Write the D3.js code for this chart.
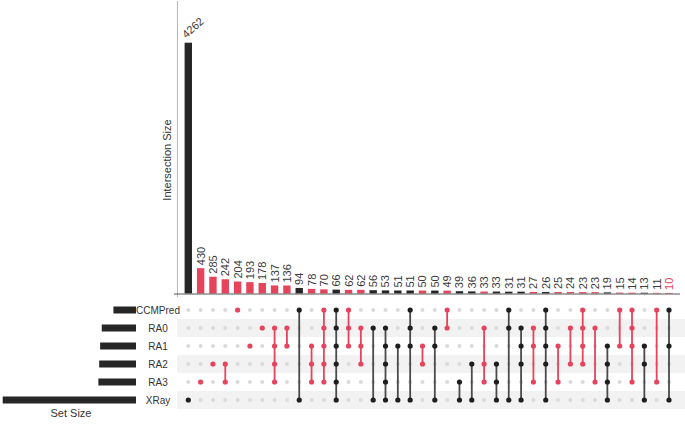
<!DOCTYPE html>
<html><head><meta charset="utf-8">
<script src="https://cdn.jsdelivr.net/npm/d3@7"></script>
<style>body{margin:0;background:#fff;} svg{display:block;font-family:"Liberation Sans",Arial,sans-serif;}</style>
</head><body>
<svg id="c" width="685" height="431"></svg>
<script>
const sets = ["CCMPred","RA0","RA1","RA2","RA3","XRay"];
const setSizes = [840,1275,1335,1370,1400,4960];
const intersectionSizes = [4262,430,285,242,204,193,178,137,136,94,78,70,66,62,62,56,53,51,51,50,50,49,39,36,33,33,31,31,27,26,25,24,23,23,19,15,14,13,11,10];
const intersectionSets = [
 ["XRay"],["RA3"],["RA2"],["RA2","RA3"],["CCMPred"],["RA1"],["RA0"],
 ["RA0","RA1","RA2","RA3"],["RA0","RA1"],["CCMPred","XRay"],["RA1","RA2","RA3"],
 ["CCMPred","RA0","RA1","RA2","RA3"],["CCMPred","RA0","RA1","RA2","RA3","XRay"],
 ["CCMPred","RA0","RA1"],["RA0","RA1","RA2"],["RA0","XRay"],["RA0","RA1","RA2","RA3","XRay"],
 ["RA1","XRay"],["CCMPred","RA0","RA1","XRay"],["RA1","RA2"],["RA0","RA1","XRay"],
 ["CCMPred","RA0"],["RA3","XRay"],["RA2","XRay"],["RA0","RA2","RA3"],["RA2","RA3","XRay"],
 ["CCMPred","RA0","XRay"],["RA0","RA1","RA2","XRay"],["RA0","RA1","RA3"],
 ["CCMPred","RA0","RA1","RA2","XRay"],["RA1","RA3"],["RA0","RA2"],["CCMPred","RA0","RA1","RA2"],
 ["RA0","RA3"],["RA1","RA2","RA3","XRay"],["CCMPred","RA1"],["CCMPred","RA0","RA1","RA3"],
 ["RA1","RA2","XRay"],["CCMPred","RA3"],["CCMPred","RA1","XRay"]
];
const highlightedLabel = 39;

const RED = "#e5445c", BLACK = "#262626", LINE_BLACK = "#4a4a4a";
const svg = d3.select("#c");
const idx = d3.range(intersectionSizes.length);
const x = d3.scalePoint().domain(idx).range([188.3, 669]);
const bw = x.step() * 0.6;
const y = d3.scaleLinear().domain([0, 4262]).range([293.5, 42.7]);
const rowY = d3.scalePoint().domain(sets).range([310, 400]);
const sx = d3.scaleLinear().domain([0, 4960]).range([136, 2.7]);
const colorOf = i => intersectionSets[i].includes("XRay") ? BLACK : RED;

// row stripes
svg.append("g").selectAll("rect").data(sets.filter((s,i)=>i%2===1)).join("rect")
  .attr("x",177).attr("width",508).attr("y",d=>rowY(d)-9).attr("height",18).attr("fill","#f2f2f2");

// y axis line
svg.append("line").attr("x1",177.5).attr("x2",177.5).attr("y1",1).attr("y2",297).attr("stroke","#b5b5b5");
svg.append("text").attr("transform","translate(171,160) rotate(-90)").attr("text-anchor","middle")
  .attr("font-size",11).attr("fill","#333").text("Intersection Size");

// bars
svg.append("g").selectAll("rect").data(idx).join("rect")
  .attr("x",i=>x(i)-bw/2).attr("width",bw)
  .attr("y",i=>y(intersectionSizes[i])).attr("height",i=>y(0)-y(intersectionSizes[i]))
  .attr("fill",i=> i===highlightedLabel ? RED : colorOf(i));
svg.append("line").attr("x1",174).attr("x2",680).attr("y1",294).attr("y2",294).attr("stroke","#555");

// labels
svg.append("g").selectAll("text").data(idx).join("text")
  .attr("transform",i=> intersectionSizes[i] >= 1000
      ? `translate(${x(i)-2},${y(intersectionSizes[i])-4}) rotate(-42)`
      : `translate(${x(i)},${y(intersectionSizes[i])-3}) rotate(-90)`)
  .attr("dy",i=> intersectionSizes[i] >= 1000 ? "0" : "0.36em")
  .attr("font-size",11).attr("fill",i=> i===highlightedLabel ? RED : "#3a3a3a")
  .text(i=>intersectionSizes[i]);

// matrix
const mg = svg.append("g");
idx.forEach(i=>{
  const members = intersectionSets[i];
  sets.forEach(s=>{
    if(!members.includes(s)) mg.append("circle").attr("cx",x(i)).attr("cy",rowY(s)).attr("r",2).attr("fill","#dadada");
  });
  const ys = members.map(s=>rowY(s));
  if (ys.length>1) mg.append("line").attr("x1",x(i)).attr("x2",x(i)).attr("y1",d3.min(ys)).attr("y2",d3.max(ys))
     .attr("stroke", colorOf(i)===RED ? RED : LINE_BLACK).attr("stroke-width",1.8);
  members.forEach(s=>{
    mg.append("circle").attr("cx",x(i)).attr("cy",rowY(s)).attr("r",2.6).attr("fill",colorOf(i)===RED?RED:"#1e1e1e");
  });
});

// set sizes
svg.append("g").selectAll("rect").data(sets).join("rect")
  .attr("x",(s,i)=>sx(setSizes[i])).attr("width",(s,i)=>sx(0)-sx(setSizes[i]))
  .attr("y",s=>rowY(s)-3.5).attr("height",7).attr("fill",BLACK);
svg.append("g").selectAll("text").data(sets).join("text")
  .attr("x",158).attr("y",s=>rowY(s)).attr("dy","0.35em").attr("text-anchor","middle")
  .attr("font-size",10).attr("fill","#333").text(s=>s);
svg.append("text").attr("x",71).attr("y",417).attr("text-anchor","middle").attr("font-size",11).attr("fill","#333").text("Set Size");
</script>
</body></html>
